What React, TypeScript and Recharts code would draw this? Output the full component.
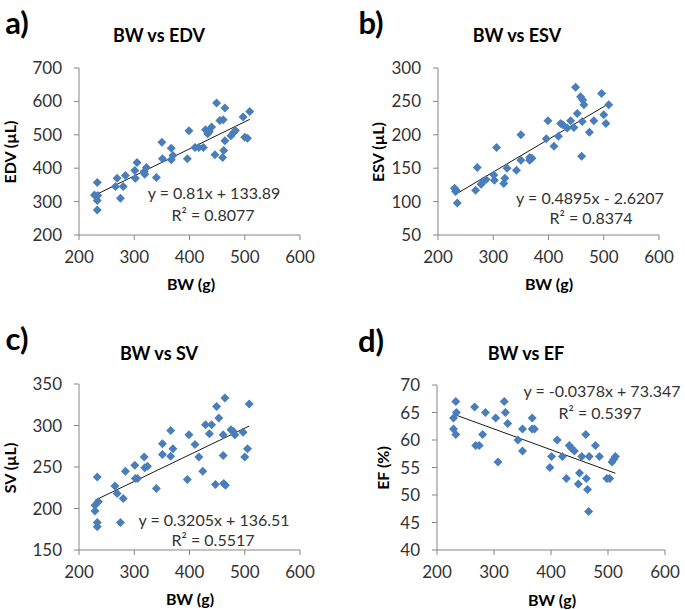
import React from 'react';
import { ScatterChart, Scatter, XAxis, YAxis, ReferenceLine } from 'recharts';

// a) BW vs EDV
const edvBw = [233, 228, 234, 233, 233, 269, 266, 280, 275, 284, 301, 305, 302, 319, 322, 318, 340, 350, 351, 367, 367, 370, 396, 399, 410, 417, 425, 429, 433, 436, 440, 446, 449, 455, 461, 464, 460, 462, 464, 475, 480, 483, 497, 500, 505, 509];
const edvVal = [357, 320, 318, 303, 275, 370, 345, 345, 310, 378, 393, 417, 370, 382, 402, 390, 372, 478, 428, 460, 425, 438, 428, 512, 462, 462, 462, 515, 503, 510, 523, 440, 595, 543, 545, 580, 432, 453, 482, 497, 507, 513, 553, 493, 490, 570];

// b) BW vs ESV
const esvBw = [230, 233, 235, 232, 268, 271, 278, 282, 287, 301, 302, 306, 319, 321, 325, 342, 350, 350, 366, 366, 370, 396, 399, 410, 418, 422, 426, 434, 440, 446, 449, 452, 458, 462, 464, 461, 460, 474, 482, 496, 500, 504, 509];
const esvVal = [120, 117, 98, 115, 117, 151, 126, 131, 133, 140, 132, 181, 127, 135, 150, 147, 200, 162, 166, 162, 165, 194, 221, 183, 198, 217, 215, 210, 221, 211, 271, 232, 257, 252, 245, 220, 168, 204, 221, 262, 230, 217, 245];

// c) BW vs SV
const svBw = [233, 229, 235, 229, 233, 233, 265, 269, 280, 275, 284, 301, 302, 306, 318, 319, 324, 340, 351, 351, 366, 366, 370, 396, 399, 410, 417, 424, 429, 436, 440, 447, 449, 453, 464, 461, 461, 462, 465, 475, 479, 482, 497, 500, 505, 508];
const svVal = [238, 204, 208, 197, 183, 178, 227, 218, 212, 183, 245, 252, 236, 236, 262, 249, 251, 224, 278, 265, 294, 263, 272, 235, 289, 277, 262, 245, 301, 290, 301, 229, 323, 309, 333, 289, 264, 230, 228, 295, 293, 289, 292, 262, 272, 326];

// d) BW vs EF
const efBw = [233, 234, 229, 229, 233, 266, 285, 303, 318, 320, 324, 268, 274, 280, 307, 342, 350, 350, 367, 367, 371, 398, 401, 411, 420, 427, 432, 436, 441, 450, 448, 454, 461, 462, 464, 466, 467, 478, 485, 498, 503, 507, 510, 513];
const efVal = [67, 65, 64, 62, 61, 66, 65, 64, 67, 65, 63, 59, 59, 61, 56, 60, 62, 58, 64, 62, 62, 55, 57, 60, 57, 53, 59, 58.5, 58, 54, 52, 57, 61, 53, 51, 47, 57, 59, 57, 53, 53, 56, 56.5, 57];

const xTicks = [200, 300, 400, 500, 600];

const FONT = 'Lato, "Open Sans", sans-serif';
const AXIS = '#868686';
const TEXT = '#333333';
const BLUE = '#4a7ebb';

const toRows = (xs: number[], ys: number[]) => xs.map((x, i) => ({ x, y: ys[i] }));

const Diamond = (props: any) => {
  const { cx, cy } = props;
  const r = 4.5;
  return <path d={`M${cx},${cy - r}L${cx + r},${cy}L${cx},${cy + r}L${cx - r},${cy}Z`} fill={BLUE} />;
};

interface PanelProps {
  left: number;
  top: number;
  width: number;
  height: number;
  margin: { top: number; right: number; bottom: number; left: number };
  xs: number[];
  ys: number[];
  yDomain: [number, number];
  yTicks: number[];
  slope: number;
  intercept: number;
}

const Panel: React.FC<PanelProps> = ({ left, top, width, height, margin, xs, ys, yDomain, yTicks, slope, intercept }) => {
  const data = toRows(xs, ys);
  const x0 = Math.min(...xs);
  const x1 = Math.max(...xs);
  const tickStyle = { fill: TEXT, fontSize: 17, fontFamily: FONT };
  return (
    <div style={{ position: 'absolute', left, top }}>
      <ScatterChart width={width} height={height} margin={margin}>
        <XAxis
          type="number"
          dataKey="x"
          domain={[200, 600]}
          ticks={xTicks}
          interval={0}
          stroke={AXIS}
          tick={tickStyle}
          tickSize={5}
          tickMargin={11}
          height={30}
        />
        <YAxis
          type="number"
          dataKey="y"
          domain={yDomain}
          ticks={yTicks}
          interval={0}
          stroke={AXIS}
          tick={tickStyle}
          tickSize={5}
          tickMargin={12}
          width={60}
        />
        <Scatter data={data} shape={<Diamond />} isAnimationActive={false} />
        <ReferenceLine
          segment={[
            { x: x0, y: slope * x0 + intercept },
            { x: x1, y: slope * x1 + intercept },
          ]}
          stroke="#1a1a1a"
          strokeWidth={1}
        />
      </ScatterChart>
    </div>
  );
};

const Txt: React.FC<{ x: number; y: number; size: number; bold?: boolean; rotate?: boolean; children: React.ReactNode; color?: string }> = ({
  x,
  y,
  size,
  bold,
  rotate,
  children,
  color,
}) => (
  <div
    style={{
      position: 'absolute',
      left: x,
      top: y,
      transform: `translate(-50%, -50%)${rotate ? ' rotate(-90deg)' : ''}`,
      whiteSpace: 'nowrap',
      fontFamily: FONT,
      fontSize: size,
      fontWeight: bold ? 700 : 400,
      color: color || '#000',
      lineHeight: 1,
    }}
  >
    {children}
  </div>
);

export default function App() {
  return (
    <div style={{ position: 'absolute', left: 0, top: 0, width: 685, height: 610, background: '#fff', overflow: 'hidden' }}>
      <Panel
        left={0}
        top={0}
        width={340}
        height={300}
        margin={{ top: 68, right: 40, bottom: 35, left: 19 }}
        xs={edvBw}
        ys={edvVal}
        yDomain={[200, 700]}
        yTicks={[200, 300, 400, 500, 600, 700]}
        slope={0.81}
        intercept={133.89}
      />
      <Panel
        left={340}
        top={0}
        width={345}
        height={300}
        margin={{ top: 68, right: 26, bottom: 35, left: 38 }}
        xs={esvBw}
        ys={esvVal}
        yDomain={[50, 300]}
        yTicks={[50, 100, 150, 200, 250, 300]}
        slope={0.4895}
        intercept={-2.6207}
      />
      <Panel
        left={0}
        top={300}
        width={340}
        height={310}
        margin={{ top: 84, right: 40, bottom: 30, left: 19 }}
        xs={svBw}
        ys={svVal}
        yDomain={[150, 350]}
        yTicks={[150, 200, 250, 300, 350]}
        slope={0.3205}
        intercept={136.51}
      />
      <Panel
        left={340}
        top={300}
        width={345}
        height={310}
        margin={{ top: 85, right: 20, bottom: 30, left: 37 }}
        xs={efBw}
        ys={efVal}
        yDomain={[40, 70]}
        yTicks={[40, 45, 50, 55, 60, 65, 70]}
        slope={-0.0378}
        intercept={73.347}
      />

      {/* panel letters */}
      <Txt x={17} y={22} size={31} bold>a)</Txt>
      <Txt x={371} y={22} size={31} bold>b)</Txt>
      <Txt x={17} y={338} size={31} bold>c)</Txt>
      <Txt x={371} y={340} size={31} bold>d)</Txt>

      {/* titles */}
      <Txt x={159} y={35} size={18} bold>BW vs EDV</Txt>
      <Txt x={517} y={35} size={18} bold>BW vs ESV</Txt>
      <Txt x={159} y={353} size={18} bold>BW vs SV</Txt>
      <Txt x={526} y={353} size={18} bold>BW vs EF</Txt>

      {/* axis titles */}
      <Txt x={10} y={152} size={16} bold rotate>EDV (µL)</Txt>
      <Txt x={378} y={152} size={16} bold rotate>ESV (µL)</Txt>
      <Txt x={10} y={468} size={16} bold rotate>SV (µL)</Txt>
      <Txt x={383} y={468} size={16} bold rotate>EF (%)</Txt>
      <Txt x={191} y={284} size={16} bold>BW (g)</Txt>
      <Txt x={549} y={284} size={16} bold>BW (g)</Txt>
      <Txt x={190} y={599} size={16} bold>BW (g)</Txt>
      <Txt x={552} y={600} size={16} bold>BW (g)</Txt>

      {/* trend equations */}
      <Txt x={214} y={193} size={16} color={TEXT}>y = 0.81x + 133.89</Txt>
      <Txt x={213} y={215} size={16} color={TEXT}>R² = 0.8077</Txt>
      <Txt x={590} y={198} size={16} color={TEXT}>y = 0.4895x - 2.6207</Txt>
      <Txt x={591} y={218} size={16} color={TEXT}>R² = 0.8374</Txt>
      <Txt x={214} y={520} size={16} color={TEXT}>y = 0.3205x + 136.51</Txt>
      <Txt x={213} y={540} size={16} color={TEXT}>R² = 0.5517</Txt>
      <Txt x={602} y={391} size={16} color={TEXT}>y = -0.0378x + 73.347</Txt>
      <Txt x={600} y={413} size={16} color={TEXT}>R² = 0.5397</Txt>
    </div>
  );
}
